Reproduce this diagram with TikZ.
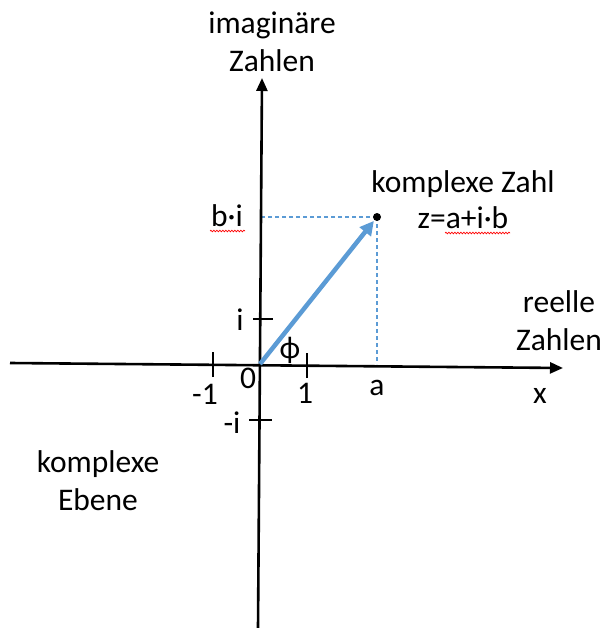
\documentclass[tikz,border=0pt]{standalone}
\usepackage{fontspec}
\setmainfont{Carlito}
\usetikzlibrary{arrows.meta,decorations.pathmorphing}
\definecolor{officeblue}{HTML}{5B9BD5}
\begin{document}
\begin{tikzpicture}[x=1pt,y=-1pt,
  lbl/.style={font=\fontsize{31.5}{38}\selectfont, inner sep=0pt, align=center},
  axis/.style={line width=2.6pt, -{Triangle[length=13pt,width=11pt]}},
  tickmark/.style={line width=2.2pt},
  guide/.style={officeblue, line width=1.2pt, dash pattern=on 4pt off 3pt},
  vec/.style={officeblue, line width=4.5pt, -{Triangle[length=14pt,width=14pt]}},
  spell/.style={red, line width=0.7pt, decorate, decoration={snake, amplitude=0.8pt, segment length=3pt}}]
\useasboundingbox (0,0) rectangle (604,628);
% axes
\coordinate (xl) at (10,363);
\coordinate (xr) at (563,368);
\coordinate (yb) at (258,628);
\coordinate (yt) at (262,78);
\coordinate (O) at (260,364);
\coordinate (Z) at (377,217);
% guides
\draw[guide] (Z) -- (O |- Z);
\draw[guide] (Z) -- (Z |- O);
\draw[axis] (xl) -- (xr);
\draw[axis] (yb) -- (yt);
% ticks
\coordinate (t1) at (307,365);
\coordinate (tm1) at (213,364);
\coordinate (ti) at (261,319);
\coordinate (tmi) at (259,420);
\draw[tickmark] ([yshift=-13pt]t1) -- ([yshift=12pt]t1);
\draw[tickmark] ([yshift=-13pt]tm1) -- ([yshift=12pt]tm1);
\draw[tickmark] ([xshift=-8pt]ti) -- ([xshift=12pt]ti);
\draw[tickmark] ([xshift=-10pt]tmi) -- ([xshift=13pt]tmi);
% vector
\draw[vec, shorten >=5pt] (O) -- (Z);
\fill (Z) circle (4pt);
% labels
\node[lbl, anchor=north] (imag) at (272,12) {imaginäre\\Zahlen};
\node[lbl, anchor=north] (kz) at (463,170) {komplexe Zahl};
\node[lbl, anchor=base] (zeq) at (463,228) {z=a+i·b};
\node[lbl, anchor=base] (bi) at (227,226) {b·i};
\node[lbl, anchor=north] (reell) at (559,290) {reelle\\Zahlen};
\node[lbl, anchor=north] (ebene) at (98,450) {komplexe\\Ebene};
\node[lbl, anchor=base] (li) at (240,330) {i};
\node[lbl, anchor=base] (lmi) at (232,433) {-i};
\node[lbl, anchor=base] (l0) at (248,388) {0};
\node[lbl, anchor=base] (l1) at (305,403) {1};
\node[lbl, anchor=base] (lm1) at (205,404) {-1};
\node[lbl, anchor=base] (la) at (377,395) {a};
\node[lbl, anchor=base] (lx) at (540,403) {x};
\node[lbl] (phi) at (290,350) {ϕ};
% spell-check underlines
\draw[spell] (210,231) -- (245,231);
\draw[spell] (445,233) -- (510,233);
\end{tikzpicture}
\end{document}
